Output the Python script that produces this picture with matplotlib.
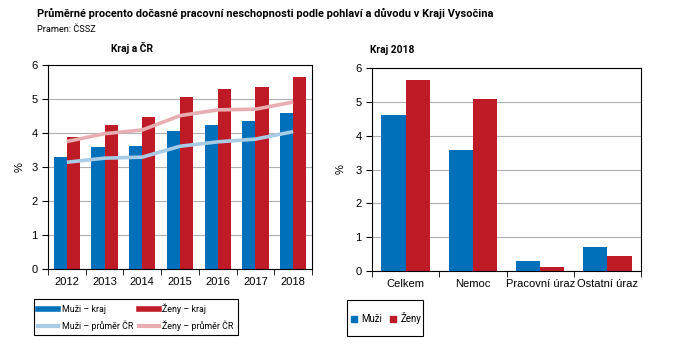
import numpy as np
import matplotlib
matplotlib.use("Agg")
import matplotlib.pyplot as plt
from matplotlib.lines import Line2D
from matplotlib.patches import Rectangle

plt.rcParams['font.family'] = ['Liberation Sans', 'DejaVu Sans']
plt.rcParams['font.size'] = 8
NARROW = ['Roboto', 'Liberation Sans', 'DejaVu Sans']

# data
years = ['2012', '2013', '2014', '2015', '2016', '2017', '2018']
muzi_kraj = [3.30, 3.60, 3.63, 4.07, 4.25, 4.36, 4.60]
zeny_kraj = [3.89, 4.25, 4.48, 5.07, 5.30, 5.36, 5.66]
muzi_cr = [3.14, 3.26, 3.29, 3.61, 3.74, 3.82, 4.04]
zeny_cr = [3.75, 3.98, 4.09, 4.51, 4.68, 4.70, 4.91]

duvody = ['Celkem', 'Nemoc', 'Pracovní úraz', 'Ostatní úraz']
muzi_2018 = [4.62, 3.58, 0.30, 0.71]
zeny_2018 = [5.66, 5.09, 0.12, 0.44]

BLUE = '#0070bb'
RED = '#be1b27'
LBLUE = '#a9cbe6'
LRED = '#e8aeb1'

W, H = 678, 361
fig = plt.figure(figsize=(W / 100, H / 100), dpi=100)

def px_axes(x0, y0, x1, y1):
    return fig.add_axes([x0 / W, 1 - y1 / H, (x1 - x0) / W, (y1 - y0) / H])

def px_box(x0, y0, x1, y1):
    fig.patches.append(Rectangle((x0 / W, 1 - y1 / H), (x1 - x0) / W, (y1 - y0) / H,
                                 transform=fig.transFigure, fill=False,
                                 edgecolor='black', linewidth=0.8))

def style(ax, n):
    ax.set_ylim(0, 6)
    ax.set_xlim(-0.5, n - 0.5)
    ax.set_yticks(range(7))
    ax.yaxis.grid(True, color='#b0b0b0', linewidth=0.8)
    ax.set_axisbelow(True)
    for s in ax.spines.values():
        s.set_color('black')
        s.set_linewidth(0.8)
    ax.set_xticks(range(n))
    ax.set_xticks(np.arange(-0.5, n, 1), minor=True)
    ax.tick_params(axis='x', which='major', length=0, pad=6, labelsize=8)
    ax.tick_params(axis='x', which='minor', length=4, direction='out')
    ax.tick_params(axis='y', length=4, direction='out', labelsize=8)

# left chart
ax1 = px_axes(48, 65, 312, 269)
x = np.arange(len(years))
bw = 0.35
ax1.bar(x - bw / 2, muzi_kraj, bw, color=BLUE)
ax1.bar(x + bw / 2, zeny_kraj, bw, color=RED)
ax1.plot(x, muzi_cr, color=LBLUE, linewidth=2.6, solid_capstyle='butt')
ax1.plot(x, zeny_cr, color=LRED, linewidth=2.6, solid_capstyle='butt')
style(ax1, len(years))
ax1.set_xticklabels(years)
ax1.set_ylabel('%', fontsize=8, labelpad=5)

# right chart
ax2 = px_axes(372, 68, 641, 271)
x2 = np.arange(len(duvody))
bw2 = 0.36
ax2.bar(x2 - bw2 / 2, muzi_2018, bw2, color=BLUE)
ax2.bar(x2 + bw2 / 2, zeny_2018, bw2, color=RED)
style(ax2, len(duvody))
ax2.set_xticklabels(duvody)
ax2.set_ylabel('%', fontsize=8, labelpad=7)

# titles
fig.text(37 / W, 1 - 13 / H, 'Průměrné procento dočasné pracovní neschopnosti podle pohlaví a důvodu v Kraji Vysočina',
         fontsize=7.9, fontweight='bold', va='center', ha='left', family=NARROW)
fig.text(37 / W, 1 - 30 / H, 'Pramen: ČSSZ', fontsize=6.6, va='center', ha='left', family=NARROW)
fig.text(132 / W, 1 - 48 / H, 'Kraj a ČR', fontsize=7.4, fontweight='bold', va='center', ha='center', family=NARROW)
fig.text(392 / W, 1 - 50 / H, 'Kraj 2018', fontsize=7.4, fontweight='bold', va='center', ha='center', family=NARROW)

# legends
h1 = [Line2D([], [], color=BLUE, linewidth=4), Line2D([], [], color=LBLUE, linewidth=3),
      Line2D([], [], color=RED, linewidth=4), Line2D([], [], color=LRED, linewidth=3)]
l1 = ['Muži – kraj', 'Muži – průměr ČR', 'Ženy – kraj', 'Ženy – průměr ČR']
fig.legend(h1, l1, ncol=2, loc='center', bbox_to_anchor=(136 / W, 1 - 317 / H),
           frameon=False, prop={'family': NARROW, 'size': 6.4},
           handlelength=2.2, handletextpad=0.4, columnspacing=0.7, labelspacing=0.7,
           borderpad=0)
px_box(34, 299, 238, 335)

h2 = [Line2D([], [], color=BLUE, marker='s', linestyle='', markersize=4),
      Line2D([], [], color=RED, marker='s', linestyle='', markersize=4)]
fig.legend(h2, ['Muži', 'Ženy'], ncol=2, loc='center', bbox_to_anchor=(386 / W, 1 - 318 / H),
           frameon=False, prop={'family': NARROW, 'size': 7},
           handlelength=0.7, handletextpad=0.4, columnspacing=0.8, borderpad=0)
px_box(347, 300, 423, 336)

fig.savefig('out.png', dpi=100)
